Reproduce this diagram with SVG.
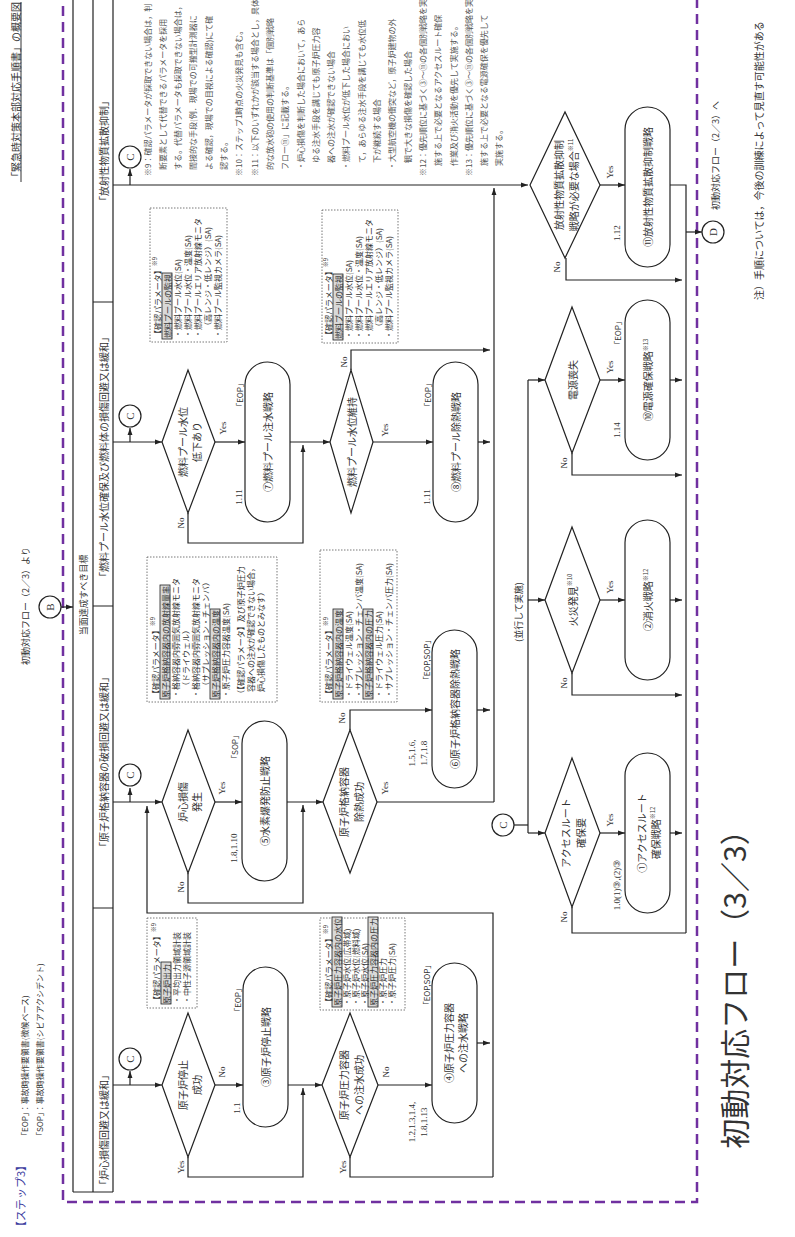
<svg xmlns="http://www.w3.org/2000/svg" width="795" height="1237" viewBox="0 0 795 1237">
<defs>
<marker id="ah" viewBox="0 0 10 10" refX="10" refY="5" markerWidth="7" markerHeight="7" markerUnits="userSpaceOnUse" orient="auto"><path d="M0,1.5L10,5L0,8.5z" fill="#222"/></marker>
<style>
text{font-family:"Noto Sans CJK JP",sans-serif;fill:#333}
.m{text-anchor:middle;dominant-baseline:central}
.s{text-anchor:start;dominant-baseline:central}
.ln{fill:none;stroke:#222;stroke-width:1.2}
.a{marker-end:url(#ah)}
.dm{fill:#fff;stroke:#222;stroke-width:1.2}
.sd{fill:#fff;stroke:#222;stroke-width:1.2}
.bx{fill:none;stroke:#555;stroke-width:0.8;stroke-dasharray:1.5 1.5}
.hl{fill:#d9d9d9;stroke:#222;stroke-width:0.8}
.f8{font-size:8px}.f9{font-size:9px}.f10{font-size:10px}.f11{font-size:10.5px}
.yn{font-family:"Liberation Serif",serif;font-size:9px}
.cl{font-family:"Liberation Serif",serif;font-size:11px}
.nt{font-size:8px;fill:#555}
.cc{fill:#fff;stroke:#222;stroke-width:1.2}
</style>
</defs>

<g id="frame">
<path d="M63,-10V1202H697V-10" fill="none" stroke="#7030A0" stroke-width="2.5" stroke-dasharray="10 6"/>
<path class="ln" d="M73,-2V1192M93,-2V1192M113,-2V1192M73,1192H113"/>
<path class="ln" d="M93,302H113M93,606H113M93,908H113"/>
<text class="m f9" transform="translate(83,595) rotate(-90)">当面達成すべき目標</text>
<text class="m f10" transform="translate(103,151) rotate(-90)">「放射性物質拡散抑制」</text>
<text class="m f10" transform="translate(103,457) rotate(-90)">「燃料プール水位確保及び燃料体の損傷回避又は緩和」</text>
<text class="m f10" transform="translate(103,762) rotate(-90)">「原子炉格納容器の破損回避又は緩和」</text>
<text class="m f10" transform="translate(103,1130) rotate(-90)">「炉心損傷回避又は緩和」</text>
</g>

<g id="header">
<text class="s" style="font-size:11px;fill:#3c3ca0" transform="translate(20,1232) rotate(-90)">【ステップ3】</text>
<text class="s f8" transform="translate(24,1140) rotate(-90)">「EOP」：事故時操作要領書(徴候ベース)</text>
<text class="s f8" transform="translate(39,1140) rotate(-90)">「SOP」：事故時操作要領書(シビアアクシデント)</text>
<text class="s f10" text-decoration="underline" transform="translate(15,182) rotate(-90)">「緊急時対策本部対応手順書」の概要図</text>
<text class="m f9" transform="translate(25,606) rotate(-90)">初動対応フロー（2／3）より</text>
<text class="s f10" transform="translate(758,300) rotate(-90)">注）手順については，今後の訓練によって見直す可能性がある</text>
<text class="m" style="font-size:30px" transform="translate(733,982) rotate(-90)">初動対応フロー（3／3）</text>
</g>

<g id="notes">
<text class="s nt" transform="translate(147,176) rotate(-90)">※9：確認パラメータが採取できない場合は，判</text>
<text class="s nt" transform="translate(162.3,170) rotate(-90)">断要素として代替できるパラメータを採用</text>
<text class="s nt" transform="translate(177.6,170) rotate(-90)">する。代替パラメータも採取できない場合は，</text>
<text class="s nt" transform="translate(192.9,170) rotate(-90)">間接的な手段(例．現場での可搬型計測器に</text>
<text class="s nt" transform="translate(208.2,170) rotate(-90)">よる確認，現場での目視による確認)にて確</text>
<text class="s nt" transform="translate(223.5,170) rotate(-90)">認する。</text>
<text class="s nt" transform="translate(238.8,176) rotate(-90)">※10：ステップ1時点の火災発見も含む。</text>
<text class="s nt" transform="translate(254.1,176) rotate(-90)">※11：以下のいずれかが該当する場合とし，具体</text>
<text class="s nt" transform="translate(269.4,170) rotate(-90)">的な放水砲の使用の判断基準は「個別戦略</text>
<text class="s nt" transform="translate(284.7,170) rotate(-90)">フロー⑪」に記載する。</text>
<text class="s nt" transform="translate(300,170) rotate(-90)">・炉心損傷を判断した場合において，あら</text>
<text class="s nt" transform="translate(315.3,163) rotate(-90)">ゆる注水手段を講じても原子炉圧力容</text>
<text class="s nt" transform="translate(330.6,163) rotate(-90)">器への注水が確認できない場合</text>
<text class="s nt" transform="translate(345.9,170) rotate(-90)">・燃料プール水位が低下した場合におい</text>
<text class="s nt" transform="translate(361.2,163) rotate(-90)">て，あらゆる注水手段を講じても水位低</text>
<text class="s nt" transform="translate(376.5,163) rotate(-90)">下が継続する場合</text>
<text class="s nt" transform="translate(391.8,170) rotate(-90)">・大型航空機の衝突など，原子炉建物の外</text>
<text class="s nt" transform="translate(407.1,163) rotate(-90)">観で大きな損傷を確認した場合</text>
<text class="s nt" transform="translate(422.4,176) rotate(-90)">※12：優先順位に基づく③～⑪の各個別戦略を実</text>
<text class="s nt" transform="translate(437.7,166) rotate(-90)">施する上で必要となるアクセスルート確保</text>
<text class="s nt" transform="translate(453,166) rotate(-90)">作業及び消火活動を優先して実施する。</text>
<text class="s nt" transform="translate(468.3,176) rotate(-90)">※13：優先順位に基づく③～⑪の各個別戦略を実</text>
<text class="s nt" transform="translate(483.6,166) rotate(-90)">施する上で必要となる電源確保を優先して</text>
<text class="s nt" transform="translate(498.9,166) rotate(-90)">実施する。</text>
</g>

<g id="connectors">
<path class="ln a" d="M113,185H528"/>
<path class="ln a" d="M130,185V169"/>
<path class="ln a" d="M600,185H625"/>
<path class="ln" d="M670,185H686V933"/>
<path class="ln a" d="M566,258V280H682"/>
<path class="ln a" d="M686,232H702"/>
<path class="ln a" d="M494,802V188"/>
<path class="ln" d="M528,380V833"/>
<path class="ln" d="M514,825H528"/>
<path class="ln a" d="M528,380H545"/>
<path class="ln a" d="M528,600H545"/>
<path class="ln a" d="M528,833H545"/>
<path class="ln a" d="M600,380H625"/>
<path class="ln a" d="M600,600H625"/>
<path class="ln a" d="M600,833H625"/>
<path class="ln a" d="M670,380H682"/>
<path class="ln a" d="M670,600H682"/>
<path class="ln a" d="M670,833H682"/>
<path class="ln a" d="M572,453V475H682"/>
<path class="ln a" d="M572,673V695H682"/>
<path class="ln" d="M572,907V933H686"/>
<path class="ln a" d="M113,442H162"/>
<path class="ln a" d="M130,442V428"/>
<path class="ln a" d="M215,442H245"/>
<path class="ln a" d="M188,513V543H303V445"/>
<path class="ln a" d="M290,442H330"/>
<path class="ln a" d="M351,370V350H490"/>
<path class="ln a" d="M373,442H433"/>
<path class="ln a" d="M478,442H490"/>
<path class="ln a" d="M113,802H162"/>
<path class="ln a" d="M130,802V788"/>
<path class="ln a" d="M215,802H242"/>
<path class="ln a" d="M188,873V903H303V805"/>
<path class="ln a" d="M287,802H323"/>
<path class="ln a" d="M350,730V710H432"/>
<path class="ln" d="M377,802H494"/>
<path class="ln a" d="M477,710H490"/>
<path class="ln a" d="M113,1085H162"/>
<path class="ln a" d="M130,1085V1071"/>
<path class="ln a" d="M215,1085H243"/>
<path class="ln a" d="M188,1157V1177H303V1088"/>
<path class="ln a" d="M288,1085H322"/>
<path class="ln a" d="M378,1085H432"/>
<path class="ln" d="M350,1157V1177H493"/>
<path class="ln a" d="M477,1043H490"/>
<path class="ln a" d="M493,1177V913H147V806"/>
<path class="ln a" d="M61,607H73"/>
</g>

<g id="labels">
<text class="m yn" transform="translate(610,172) rotate(-90)">Yes</text>
<text class="m yn" transform="translate(557,267) rotate(-90)">No</text>
<text class="m yn" transform="translate(610,367) rotate(-90)">Yes</text>
<text class="m yn" transform="translate(564,463) rotate(-90)">No</text>
<text class="m yn" transform="translate(610,587) rotate(-90)">Yes</text>
<text class="m yn" transform="translate(564,683) rotate(-90)">No</text>
<text class="m yn" transform="translate(610,820) rotate(-90)">Yes</text>
<text class="m yn" transform="translate(564,917) rotate(-90)">No</text>
<text class="m yn" transform="translate(223,428) rotate(-90)">Yes</text>
<text class="m yn" transform="translate(181,523) rotate(-90)">No</text>
<text class="m yn" transform="translate(344,362) rotate(-90)">No</text>
<text class="m yn" transform="translate(385,430) rotate(-90)">Yes</text>
<text class="m yn" transform="translate(222,788) rotate(-90)">Yes</text>
<text class="m yn" transform="translate(181,887) rotate(-90)">No</text>
<text class="m yn" transform="translate(342,718) rotate(-90)">No</text>
<text class="m yn" transform="translate(385,788) rotate(-90)">Yes</text>
<text class="m yn" transform="translate(222,1072) rotate(-90)">No</text>
<text class="m yn" transform="translate(181,1167) rotate(-90)">Yes</text>
<text class="m yn" transform="translate(386,1072) rotate(-90)">No</text>
<text class="m yn" transform="translate(343,1167) rotate(-90)">Yes</text>
<text class="m f9" transform="translate(518,612) rotate(-90)">(並行して実施)</text>
<text class="m yn" transform="translate(617,233) rotate(-90)">1.12</text>
<text class="m f8" transform="translate(617,333) rotate(-90)">「EOP」</text>
<text class="m yn" transform="translate(617,430) rotate(-90)">1.14</text>
<text class="m yn" transform="translate(617,885) rotate(-90)">1.0(1)③,(2)③</text>
<text class="m f8" transform="translate(239,395) rotate(-90)">「EOP」</text>
<text class="m yn" transform="translate(239,497) rotate(-90)">1.11</text>
<text class="m f8" transform="translate(427,395) rotate(-90)">「EOP」</text>
<text class="m yn" transform="translate(427,497) rotate(-90)">1.11</text>
<text class="m f8" transform="translate(234,747) rotate(-90)">「SOP」</text>
<text class="m yn" transform="translate(234,848) rotate(-90)">1.8,1.10</text>
<text class="m f8" transform="translate(426,660) rotate(-90)">「EOP,SOP」</text>
<text class="m yn" transform="translate(412,753) rotate(-90)">1.5,1.6,</text>
<text class="m yn" transform="translate(424,753) rotate(-90)">1.7,1.8</text>
<text class="m f8" transform="translate(237,1000) rotate(-90)">「EOP」</text>
<text class="m yn" transform="translate(237,1108) rotate(-90)">1.1</text>
<text class="m f8" transform="translate(426,985) rotate(-90)">「EOP,SOP」</text>
<text class="m yn" transform="translate(412,1122) rotate(-90)">1.2,1.3,1.4,</text>
<text class="m yn" transform="translate(424,1122) rotate(-90)">1.8,1.13</text>
</g>

<g id="B"><circle class="cc" cx="50" cy="607" r="11"/><text class="m cl" transform="translate(50,607) rotate(-90)">B</text></g>
<g id="D"><circle class="cc" cx="713" cy="232" r="11"/><text class="m cl" transform="translate(713,232) rotate(-90)">D</text>
<text class="s f9" transform="translate(715,210) rotate(-90)">初動対応フロー（2／3）へ</text></g>
<g id="C1"><circle class="cc" cx="130" cy="157" r="11"/><text class="m cl" transform="translate(130,157) rotate(-90)">C</text></g>
<g id="C2"><circle class="cc" cx="130" cy="416" r="11"/><text class="m cl" transform="translate(130,416) rotate(-90)">C</text></g>
<g id="C3"><circle class="cc" cx="130" cy="775" r="11"/><text class="m cl" transform="translate(130,775) rotate(-90)">C</text></g>
<g id="C4"><circle class="cc" cx="130" cy="1059" r="11"/><text class="m cl" transform="translate(130,1059) rotate(-90)">C</text></g>
<g id="C5"><circle class="cc" cx="503" cy="825" r="11"/><text class="m cl" transform="translate(503,825) rotate(-90)">C</text></g>

<g id="dec-rad"><polygon class="dm" points="530,185 565,112 600,185 565,258"/>
<text class="m f10" transform="translate(558,185) rotate(-90)">放射性物質拡散抑制</text>
<text class="m f10" transform="translate(573,185) rotate(-90)">戦略が必要な場合<tspan font-size="6" dy="-3">※11</tspan></text></g>
<g id="st11"><rect class="sd" x="625" y="107" width="45" height="160" rx="22.5"/><text class="m f10" transform="translate(647.5,187) rotate(-90)">⑪放射性物質拡散抑制戦略</text></g>
<g id="dec-power"><polygon class="dm" points="545,380 572,307 600,380 572,453"/><text class="m f10" transform="translate(572,380) rotate(-90)">電源喪失</text></g>
<g id="st10"><rect class="sd" x="625" y="300" width="45" height="160" rx="22.5"/><text class="m f10" transform="translate(647.5,380) rotate(-90)">⑩電源確保戦略<tspan font-size="6" dy="-3">※13</tspan></text></g>
<g id="dec-fire"><polygon class="dm" points="545,600 572,527 600,600 572,673"/><text class="m f10" transform="translate(572,600) rotate(-90)">火災発見<tspan font-size="6" dy="-3">※10</tspan></text></g>
<g id="st2"><rect class="sd" x="625" y="520" width="45" height="160" rx="22.5"/><text class="m f10" transform="translate(647.5,600) rotate(-90)">②消火戦略<tspan font-size="6" dy="-3">※12</tspan></text></g>
<g id="dec-access"><polygon class="dm" points="545,833 572,758 600,833 572,907"/>
<text class="m f10" transform="translate(565,833) rotate(-90)">アクセスルート</text>
<text class="m f10" transform="translate(580,833) rotate(-90)">確保要</text></g>
<g id="st1"><rect class="sd" x="625" y="753" width="45" height="160" rx="22.5"/>
<text class="m f10" transform="translate(641,833) rotate(-90)">①アクセスルート</text>
<text class="m f10" transform="translate(655,833) rotate(-90)">確保戦略<tspan font-size="6" dy="-3">※12</tspan></text></g>

<g id="dec-pool-low"><polygon class="dm" points="162,442 188,370 215,442 188,513"/>
<text class="m f10" transform="translate(182,442) rotate(-90)">燃料プール水位</text>
<text class="m f10" transform="translate(196,442) rotate(-90)">低下あり</text></g>
<g id="st7"><rect class="sd" x="245" y="362" width="45" height="160" rx="22.5"/><text class="m f10" transform="translate(267.5,442) rotate(-90)">⑦燃料プール注水戦略</text></g>
<g id="dec-pool-keep"><polygon class="dm" points="330,442 351,370 373,442 351,513"/><text class="m f10" transform="translate(351,442) rotate(-90)">燃料プール水位維持</text></g>
<g id="st8"><rect class="sd" x="433" y="362" width="45" height="160" rx="22.5"/><text class="m f10" transform="translate(455.5,442) rotate(-90)">⑧燃料プール除熱戦略</text></g>

<g id="dec-core"><polygon class="dm" points="162,802 188,730 215,802 188,873"/>
<text class="m f10" transform="translate(182,802) rotate(-90)">炉心損傷</text>
<text class="m f10" transform="translate(196,802) rotate(-90)">発生</text></g>
<g id="st5"><rect class="sd" x="242" y="721" width="45" height="160" rx="22.5"/><text class="m f10" transform="translate(264.5,801) rotate(-90)">⑤水素爆発防止戦略</text></g>
<g id="dec-pcv"><polygon class="dm" points="323,802 350,730 377,802 350,873"/>
<text class="m f10" transform="translate(343,802) rotate(-90)">原子炉格納容器</text>
<text class="m f10" transform="translate(358,802) rotate(-90)">除熱成功</text></g>
<g id="st6"><rect class="sd" x="432" y="630" width="45" height="158" rx="22.5"/><text class="m f10" transform="translate(454.5,709) rotate(-90)">⑥原子炉格納容器除熱戦略</text></g>

<g id="dec-scram"><polygon class="dm" points="162,1085 188,1013 215,1085 188,1157"/>
<text class="m f10" transform="translate(182,1085) rotate(-90)">原子炉停止</text>
<text class="m f10" transform="translate(196,1085) rotate(-90)">成功</text></g>
<g id="st3"><rect class="sd" x="243" y="967" width="45" height="160" rx="22.5"/><text class="m f10" transform="translate(265.5,1047) rotate(-90)">③原子炉停止戦略</text></g>
<g id="dec-rpv"><polygon class="dm" points="322,1085 350,1013 378,1085 350,1157"/>
<text class="m f10" transform="translate(343,1085) rotate(-90)">原子炉圧力容器</text>
<text class="m f10" transform="translate(358,1085) rotate(-90)">への注水成功</text></g>
<g id="st4"><rect class="sd" x="432" y="963" width="45" height="160" rx="22.5"/>
<text class="m f10" transform="translate(448,1043) rotate(-90)">④原子炉圧力容器</text>
<text class="m f10" transform="translate(462,1043) rotate(-90)">への注水戦略</text></g>

<g id="box-pool1"><rect class="bx" x="150" y="208" width="77" height="134"/>
<rect class="hl" x="162" y="273" width="10" height="66"/>
<text class="s f8" transform="translate(157,338) rotate(-90)">【確認パラメータ】<tspan font-size="6" dy="-3">※9</tspan></text>
<text class="s f8" transform="translate(167,338) rotate(-90)">燃料プールの監視</text>
<text class="s f8" transform="translate(177,338) rotate(-90)">・燃料プール水位(SA)</text>
<text class="s f8" transform="translate(187,338) rotate(-90)">・燃料プール水位・温度(SA)</text>
<text class="s f8" transform="translate(197,338) rotate(-90)">・燃料プールエリア放射線モニタ</text>
<text class="s f8" transform="translate(207,330) rotate(-90)">（高レンジ・低レンジ）(SA)</text>
<text class="s f8" transform="translate(217,338) rotate(-90)">・燃料プール監視カメラ(SA)</text></g>
<g id="box-pool2"><rect class="bx" x="322" y="210" width="76" height="133"/>
<rect class="hl" x="333" y="274" width="10" height="66"/>
<text class="s f8" transform="translate(328,339) rotate(-90)">【確認パラメータ】<tspan font-size="6" dy="-3">※9</tspan></text>
<text class="s f8" transform="translate(338,339) rotate(-90)">燃料プールの監視</text>
<text class="s f8" transform="translate(348,339) rotate(-90)">・燃料プール水位(SA)</text>
<text class="s f8" transform="translate(358,339) rotate(-90)">・燃料プール水位・温度(SA)</text>
<text class="s f8" transform="translate(368,339) rotate(-90)">・燃料プールエリア放射線モニタ</text>
<text class="s f8" transform="translate(378,331) rotate(-90)">（高レンジ・低レンジ）(SA)</text>
<text class="s f8" transform="translate(388,339) rotate(-90)">・燃料プール監視カメラ(SA)</text></g>
<g id="box-core"><rect class="bx" x="147" y="557" width="130" height="145"/>
<rect class="hl" x="160" y="585" width="10" height="114"/>
<rect class="hl" x="210" y="609" width="10" height="90"/>
<text class="s f8" transform="translate(155,698) rotate(-90)">【確認パラメータ】<tspan font-size="6" dy="-3">※9</tspan></text>
<text class="s f8" transform="translate(165,698) rotate(-90)">原子炉格納容器内の放射線量率</text>
<text class="s f8" transform="translate(175,698) rotate(-90)">・格納容器内雰囲気放射線モニタ</text>
<text class="s f8" transform="translate(185,690) rotate(-90)">（ドライウェル）</text>
<text class="s f8" transform="translate(195,698) rotate(-90)">・格納容器内雰囲気放射線モニタ</text>
<text class="s f8" transform="translate(205,690) rotate(-90)">（サプレッション・チェンバ）</text>
<text class="s f8" transform="translate(215,698) rotate(-90)">原子炉格納容器内の温度</text>
<text class="s f8" transform="translate(225,698) rotate(-90)">・原子炉圧力容器温度(SA)</text>
<text class="s f8" transform="translate(240,698) rotate(-90)">（【確認パラメータ】及び原子炉圧力</text>
<text class="s f8" transform="translate(250,692) rotate(-90)">容器への注水が確認できない場合，</text>
<text class="s f8" transform="translate(260,692) rotate(-90)">炉心損傷したものとみなす）</text></g>
<g id="box-pcv"><rect class="bx" x="320" y="550" width="77" height="152"/>
<rect class="hl" x="333" y="609" width="10" height="90"/>
<rect class="hl" x="363" y="609" width="10" height="90"/>
<text class="s f8" transform="translate(328,698) rotate(-90)">【確認パラメータ】<tspan font-size="6" dy="-3">※9</tspan></text>
<text class="s f8" transform="translate(338,698) rotate(-90)">原子炉格納容器内の温度</text>
<text class="s f8" transform="translate(348,698) rotate(-90)">・ドライウェル温度(SA)</text>
<text class="s f8" transform="translate(358,698) rotate(-90)">・サプレッション・チェンバ温度(SA)</text>
<text class="s f8" transform="translate(368,698) rotate(-90)">原子炉格納容器内の圧力</text>
<text class="s f8" transform="translate(378,698) rotate(-90)">・ドライウェル圧力(SA)</text>
<text class="s f8" transform="translate(388,698) rotate(-90)">・サプレッション・チェンバ圧力(SA)</text></g>
<g id="box-rpv"><rect class="bx" x="320" y="918" width="85" height="92"/>
<rect class="hl" x="332" y="917" width="10" height="90"/>
<rect class="hl" x="368" y="917" width="10" height="90"/>
<text class="s f8" transform="translate(328,1006) rotate(-90)">【確認パラメータ】<tspan font-size="6" dy="-3">※9</tspan></text>
<text class="s f8" transform="translate(337,1006) rotate(-90)">原子炉圧力容器内の水位</text>
<text class="s f8" transform="translate(346,1006) rotate(-90)">・原子炉水位(広帯域)</text>
<text class="s f8" transform="translate(355,1006) rotate(-90)">・原子炉水位(燃料域)</text>
<text class="s f8" transform="translate(364,1006) rotate(-90)">・原子炉水位(SA)</text>
<text class="s f8" transform="translate(373,1006) rotate(-90)">原子炉圧力容器内の圧力</text>
<text class="s f8" transform="translate(382,1006) rotate(-90)">・原子炉圧力</text>
<text class="s f8" transform="translate(391,1006) rotate(-90)">・原子炉圧力(SA)</text></g>
<g id="box-scram"><rect class="bx" x="147" y="918" width="50" height="90"/>
<rect class="hl" x="161" y="962" width="10" height="42"/>
<text class="s f8" transform="translate(156,1004) rotate(-90)">【確認パラメータ】<tspan font-size="6" dy="-3">※9</tspan></text>
<text class="s f8" transform="translate(166,1004) rotate(-90)">原子炉出力</text>
<text class="s f8" transform="translate(176,1004) rotate(-90)">・平均出力領域計装</text>
<text class="s f8" transform="translate(186,1004) rotate(-90)">・中性子源領域計装</text></g>
</svg>
